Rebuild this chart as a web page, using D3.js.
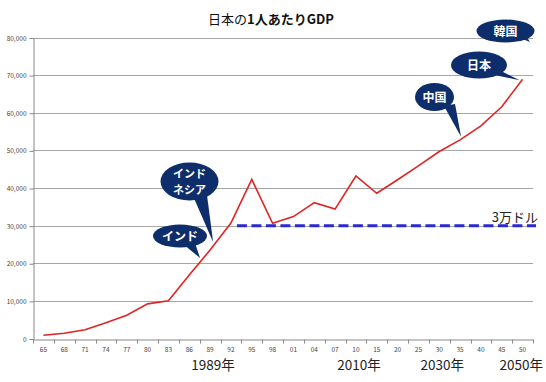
<!DOCTYPE html>
<html>
<head>
<meta charset="utf-8">
<script src="https://cdn.jsdelivr.net/npm/d3@7"></script>
<style>
body { margin: 0; background: #fff; }
text { font-family: "Noto Sans CJK JP", "Noto Sans", sans-serif; }
</style>
</head>
<body>
<svg id="chart" width="546" height="382"></svg>
<script>
// 日本の1人あたりGDP (ドル)
var years = ["65","68","71","74","77","80","83","86","89","92","95","98","01","04","07","10","15","20","25","30","35","40","45","50"];
var gdp = [850,1400,2300,4200,6200,9200,10000,16900,23500,30700,42300,30600,32400,36100,34400,43200,38600,42200,45900,49700,52800,56500,61600,68900];
var yTicks = [0,10000,20000,30000,40000,50000,60000,70000,80000];
var refLine = 30000;
var yearMarks = [{ at: "89", label: "1989年" }, { at: "10", label: "2010年" }, { at: "30", label: "2030年" }, { at: "50", label: "2050年" }];
// callout bubbles: name, year they point at
var callouts = [
    { label: ["韓国"], at: null },
    { label: ["日本"], at: "50" },
    { label: ["中国"], at: "35" },
    { label: ["インド", "ネシア"], at: "89" },
    { label: ["インド"], at: "89" }
];

var svg = d3.select("#chart");
var margin = { top: 37.5, right: 13, bottom: 43.5, left: 33 };
var width = 546, height = 382;

var x = d3.scaleBand()
    .domain(years)
    .range([margin.left, width - margin.right]);
var y = d3.scaleLinear()
    .domain([0, 80000])
    .range([height - margin.bottom, margin.top]);

function cx(d) { return x(d) + x.bandwidth() / 2; }

// grid
svg.append("g")
    .selectAll("line")
    .data(yTicks.slice(1))
    .join("line")
    .attr("x1", margin.left)
    .attr("x2", width - margin.right)
    .attr("y1", function (d) { return Math.round(y(d)) + 0.5; })
    .attr("y2", function (d) { return Math.round(y(d)) + 0.5; })
    .attr("stroke", "#a6a6a6")
    .attr("stroke-width", 1);

var yAxis = d3.axisLeft(y)
    .tickValues(yTicks)
    .tickSize(4)
    .tickFormat(d3.format(","));
svg.append("g")
    .attr("transform", "translate(" + (margin.left + 0.5) + ",0.5)")
    .call(yAxis)
    .call(function (g) {
        g.selectAll("line, path").attr("stroke", "#888");
        g.selectAll("text").attr("font-size", 6.5).attr("fill", "#444")
            .attr("font-family", "Liberation Sans, sans-serif");
    });

var xAxis = d3.axisBottom(x).tickSize(0).tickPadding(8);
var gx = svg.append("g")
    .attr("transform", "translate(0," + (Math.round(y(0)) + 0.5) + ")")
    .call(xAxis)
    .call(function (g) {
        g.select(".domain").attr("stroke", "#888");
        g.selectAll("text").attr("font-size", 6.5).attr("fill", "#444")
            .attr("font-family", "Liberation Sans, sans-serif");
    });
// ticks between categories
gx.append("g")
    .selectAll("line")
    .data(years.concat(["end"]))
    .join("line")
    .attr("x1", function (d, i) { return Math.round(margin.left + i * x.bandwidth()) + 0.5; })
    .attr("x2", function (d, i) { return Math.round(margin.left + i * x.bandwidth()) + 0.5; })
    .attr("y1", 0)
    .attr("y2", 4)
    .attr("stroke", "#888");

// 3万ドル line
svg.append("line")
    .attr("x1", cx("92") + 6)
    .attr("x2", width - margin.right + 3)
    .attr("y1", y(refLine))
    .attr("y2", y(refLine))
    .attr("stroke", "#2a2ad0")
    .attr("stroke-width", 3)
    .attr("stroke-dasharray", "10,4.5");
svg.append("text")
    .attr("x", width - 8)
    .attr("y", y(refLine) - 4)
    .attr("text-anchor", "end")
    .attr("font-size", 13)
    .attr("fill", "#222")
    .text("3万ドル");

// GDP line
var line = d3.line()
    .x(function (d, i) { return cx(years[i]); })
    .y(function (d) { return y(d); });
svg.append("path")
    .datum(gdp)
    .attr("d", line)
    .attr("fill", "none")
    .attr("stroke", "#e02424")
    .attr("stroke-width", 1.6);

// title
var title = svg.append("text")
    .attr("x", 271)
    .attr("y", 24)
    .attr("text-anchor", "middle")
    .attr("font-size", 13)
    .attr("fill", "#111");
title.append("tspan").text("日本の");
title.append("tspan").attr("font-weight", "bold").text("1人あたりGDP");

// year labels under axis
svg.append("g")
    .selectAll("text")
    .data(yearMarks)
    .join("text")
    .attr("y", 370)
    .attr("text-anchor", "middle")
    .attr("font-size", 13.5)
    .attr("fill", "#222")
    .text(function (d) { return d.label; })
    .attr("x", function (d) {
        var half = this.getComputedTextLength() / 2;
        return Math.min(cx(d.at) + 3, width - 3 - half);
    });

// callout bubbles (ellipse + tail)
var bubble = [
    { cx: 505.5, cy: 31, rx: 29, ry: 11.5, tail: [[520, 38], [530, 42], [526, 36]] },
    { cx: 479, cy: 65, rx: 28, ry: 13.5, tail: [[490, 74], [503, 72], [cx("50") - 3, y(gdp[23]) + 1]] },
    { cx: 434.5, cy: 97, rx: 19.5, ry: 14, tail: [[444, 106], [455, 104], [cx("35") + 1, y(gdp[20]) - 3]] },
    { cx: 189.5, cy: 181.5, rx: 29, ry: 19, tail: [[193, 196], [207, 195], [cx("89") + 3, y(gdp[8]) - 8]] },
    { cx: 180, cy: 236, rx: 27, ry: 11.5, tail: [[183, 244], [195, 243], [cx("89") - 10, y(gdp[8]) + 8]] }
];
var navy = "#0d2d6b";
var bg = svg.append("g");
bubble.forEach(function (b, i) {
    bg.append("path")
        .attr("d", d3.line()(b.tail) + "Z")
        .attr("fill", navy);
    bg.append("ellipse")
        .attr("cx", b.cx).attr("cy", b.cy)
        .attr("rx", b.rx).attr("ry", b.ry)
        .attr("fill", navy);
    var lines = callouts[i].label;
    var fs = lines.length > 1 ? 11 : 12;
    lines.forEach(function (s, j) {
        bg.append("text")
            .attr("x", b.cx)
            .attr("y", b.cy + 4.5 + (j - (lines.length - 1) / 2) * 16)
            .attr("text-anchor", "middle")
            .attr("font-size", fs)
            .attr("font-weight", "bold")
            .attr("fill", "#fff")
            .text(s);
    });
});
</script>
</body>
</html>
